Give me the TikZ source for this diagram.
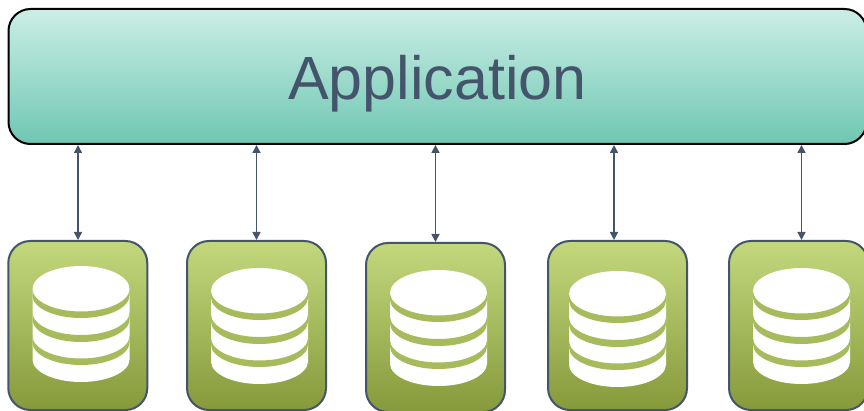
\documentclass[tikz,border=0pt]{standalone}
\usepackage{fontspec}
\setmainfont{Liberation Sans}
\usetikzlibrary{arrows.meta}
\definecolor{slate}{HTML}{44546A}
\definecolor{band}{HTML}{A6BB5C}
\definecolor{appTop}{HTML}{CBEEE5}
\definecolor{appBot}{HTML}{6FC7B3}
\definecolor{dbTop}{HTML}{C3D77D}
\definecolor{dbBot}{HTML}{869A3C}
\tikzset{
  appbox/.style={draw=black,line width=2pt,rounded corners=22pt,top color=appTop,bottom color=appBot,minimum width=858pt,minimum height=135pt,inner sep=0pt},
  dbbox/.style={draw=slate,line width=2pt,rounded corners=22pt,top color=dbTop,bottom color=dbBot,minimum width=139pt,minimum height=169pt,inner sep=0pt},
  link/.style={draw=slate,line width=1.6pt,{Triangle[width=8pt,length=8pt]}-{Triangle[width=8pt,length=8pt]}}
}
\newcommand{\cylstack}[2]{%
  \begin{scope}[shift={(#1,#2)}]
    \fill[white] (-48.5,23) arc[start angle=180,end angle=360,x radius=48.5,y radius=23]
      -- (48.5,93.5) arc[start angle=0,end angle=180,x radius=48.5,y radius=22.5] -- cycle;
    \foreach \c/\h in {23/6.5,46.5/7,70/6.5}{
      \fill[band] (-48.5,\c) arc[start angle=180,end angle=0,x radius=48.5,y radius=22.5]
        -- (48.5,\c+\h) arc[start angle=0,end angle=180,x radius=48.5,y radius=22.5] -- cycle;
    }
  \end{scope}}
\begin{document}
\begin{tikzpicture}[x=1pt,y=-1pt]
  \useasboundingbox (0,0) rectangle (864,411);
  \clip (0,0) rectangle (864,411);
  \node[appbox] (app) at (437.5,76.5) {};
  \node[text=slate,font=\fontsize{61pt}{61pt}\selectfont,anchor=base,inner sep=0pt] (apptext) at (437.5,99.7) {Application};
  \node[dbbox] (db1) at (77.8,325.5) {};
  \node[dbbox] (db2) at (256.5,325.5) {};
  \node[dbbox] (db3) at (435.5,327.5) {};
  \node[dbbox] (db4) at (617.5,325.5) {};
  \node[dbbox] (db5) at (798.5,325.5) {};
  \cylstack{81}{266}
  \cylstack{259.5}{268}
  \cylstack{438.5}{270}
  \cylstack{617.5}{271}
  \cylstack{801.5}{268}
  \coordinate (p1) at (78,0);
  \coordinate (p2) at (256.5,0);
  \coordinate (p3) at (435.5,0);
  \coordinate (p4) at (614,0);
  \coordinate (p5) at (801.5,0);
  \draw[link] (p1 |- app.south) -- (p1 |- db1.north);
  \draw[link] (p2 |- app.south) -- (p2 |- db2.north);
  \draw[link] (p3 |- app.south) -- (p3 |- db3.north);
  \draw[link] (p4 |- app.south) -- (p4 |- db4.north);
  \draw[link] (p5 |- app.south) -- (p5 |- db5.north);
\end{tikzpicture}
\end{document}
